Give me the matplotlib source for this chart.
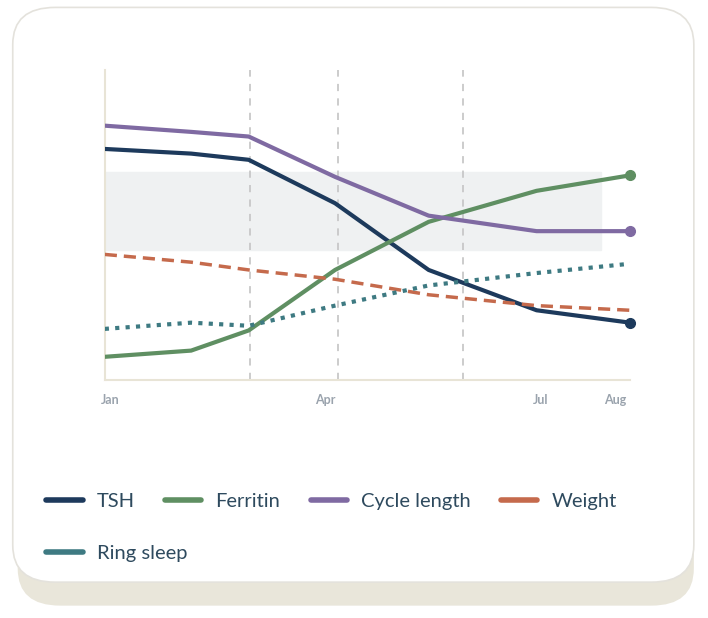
import matplotlib
matplotlib.use('Agg')
import matplotlib.pyplot as plt
from matplotlib.patches import FancyBboxPatch

plt.rcParams['font.family'] = ['Lato', 'DejaVu Sans']

# months since Jan (x) and relative level (y, 0-100)
months = [0.0, 1.2, 2.0, 3.2, 4.5, 6.0, 7.3]
tsh = [74.5, 73.0, 71.0, 57.0, 35.5, 22.5, 18.5]
ferritin = [7.5, 9.5, 16.0, 35.5, 51.0, 61.0, 66.0]
cycle = [82.0, 80.0, 78.5, 65.5, 53.0, 48.0, 48.0]
weight = [40.5, 38.0, 35.5, 32.5, 27.5, 24.0, 22.5]
ring_sleep = [16.5, 18.5, 17.5, 24.0, 30.5, 34.5, 37.5]

tick_pos = [0.07, 3.06, 6.06, 7.09]
tick_labels = ['Jan', 'Apr', 'Jul', 'Aug']
vlines = [2.02, 3.24, 4.98]
band = (42.0, 67.0)

NAVY = '#1d3a5c'
GREEN = '#5f8f62'
PURPLE = '#7f6aa2'
ORANGE = '#c56a4c'
TEAL = '#3e7a82'
TEXT = '#2e4a5e'

fig = plt.figure(figsize=(7.08, 6.18), dpi=100, facecolor='white')

# card shadow and card
shadow = FancyBboxPatch((0.025, 0.02), 0.955, 0.93, boxstyle='round,pad=0,rounding_size=0.06',
                        transform=fig.transFigure, facecolor='#e9e6da', edgecolor='none', zorder=0)
card = FancyBboxPatch((0.018, 0.058), 0.962, 0.93, boxstyle='round,pad=0,rounding_size=0.06',
                      transform=fig.transFigure, facecolor='white', edgecolor='#e4e2dc',
                      linewidth=1.2, zorder=1)
fig.patches.extend([shadow, card])

ax = fig.add_axes([0.148, 0.385, 0.742, 0.502])
ax.set_facecolor('none')
ax.set_zorder(2)

ax.axhspan(band[0], band[1], xmin=0, xmax=6.9 / 7.3, color='#eff1f2', zorder=0)
for v in vlines:
    ax.axvline(v, color='#c8c8c8', linestyle=(0, (4, 4)), linewidth=1.3, zorder=1)

ax.plot(months, tsh, color=NAVY, linewidth=3, label='TSH', zorder=3)
ax.plot(months, ferritin, color=GREEN, linewidth=3, label='Ferritin', zorder=3)
ax.plot(months, cycle, color=PURPLE, linewidth=3, label='Cycle length', zorder=3)
ax.plot(months, weight, color=ORANGE, linewidth=2.5, linestyle=(0, (3.5, 2)), label='Weight', zorder=3)
ax.plot(months, ring_sleep, color=TEAL, linewidth=3, linestyle=(0, (1, 1.5)), label='Ring sleep', zorder=3)

for ser, c in [(tsh, NAVY), (ferritin, GREEN), (cycle, PURPLE)]:
    ax.plot(months[-1], ser[-1], 'o', color=c, markersize=7, zorder=4, clip_on=False)

ax.set_xlim(0, 7.3)
ax.set_ylim(0, 100)
ax.set_xticks(tick_pos)
ax.set_xticklabels(tick_labels, color='#9aa3ad', fontsize=9, fontweight='bold')
ax.tick_params(axis='x', length=0, pad=10)
ax.set_yticks([])
for s in ['top', 'right']:
    ax.spines[s].set_visible(False)
for s in ['left', 'bottom']:
    ax.spines[s].set_color('#e8e4d6')
    ax.spines[s].set_linewidth(1.5)

h, l = ax.get_legend_handles_labels()
kw = dict(loc='upper left', frameon=False, fontsize=14.5, handlelength=1.8,
          handletextpad=0.7, columnspacing=1.5, labelcolor=TEXT)
leg1 = fig.legend(h[:4], l[:4], ncol=4, bbox_to_anchor=(0.04, 0.232), **kw)
leg2 = fig.legend(h[4:], l[4:], ncol=1, bbox_to_anchor=(0.04, 0.147), **kw)
for leg in (leg1, leg2):
    for line in leg.get_lines():
        line.set_linestyle('-')
        line.set_linewidth(4)
        line.set_solid_capstyle('round')

plt.savefig('out.png', dpi=100, facecolor='white')
